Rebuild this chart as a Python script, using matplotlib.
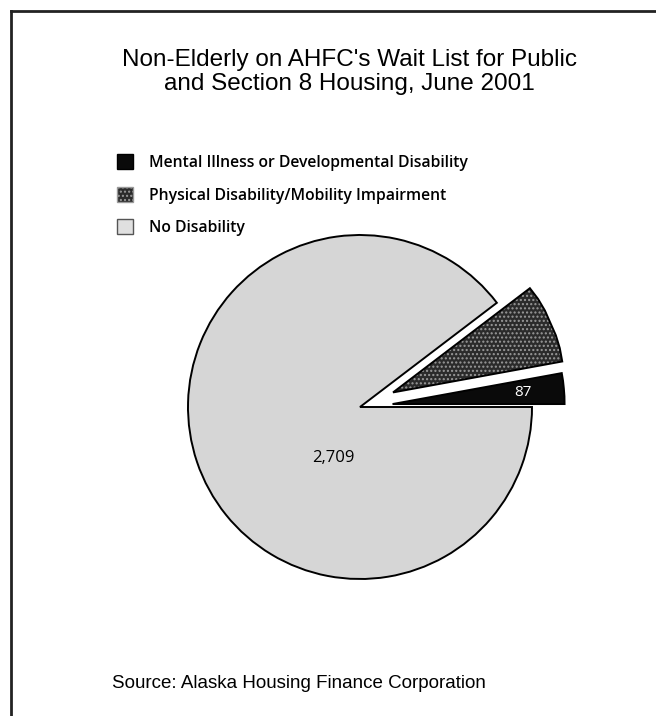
import matplotlib.pyplot as plt
from matplotlib.lines import Line2D

# Data
categories = ["Mental Illness or Developmental Disability",
              "Physical Disability/Mobility Impairment",
              "No Disability"]
values = [87, 226, 2709]          # physical slice is unlabeled; estimated from angle
slice_labels = ["87", "", "2,709"]

title = "Non-Elderly on AHFC's Wait List for Public\nand Section 8 Housing, June 2001"
source = "Source: Alaska Housing Finance Corporation"

fig = plt.figure(figsize=(6.56, 7.16), dpi=100)
W, H = 656, 716

# pie axes: center at (360, 407) px, radius 172 px
cx, cy, r = 360, 407, 172
half = 230
ax = fig.add_axes([(cx - half) / W, (H - cy - half) / H, 2 * half / W, 2 * half / H])

wedges, _ = ax.pie(values, startangle=0, counterclock=True, radius=1,
                   explode=[0.19, 0.21, 0],
                   colors=["#0a0a0a", "#2b2b2b", "#d6d6d6"],
                   wedgeprops=dict(edgecolor="black", linewidth=1.4))
ax.set_xlim(-half / r, half / r)
ax.set_ylim(-half / r, half / r)
ax.set_aspect("equal")
ax.axis("off")

wedges[1].set_hatch("....")
wedges[1].set_edgecolor("#9a9a9a")
wedges[1].set_linewidth(0)
for w in wedges:
    w.set_clip_on(False)
# outline for the hatched wedge
ax.add_patch(plt.Polygon(wedges[1].get_path().vertices, closed=True, fill=False,
                         edgecolor="black", linewidth=1.4,
                         transform=wedges[1].get_transform(), clip_on=False))

ax.text(-0.157, -0.297, slice_labels[2], ha="center", va="center",
        fontsize=12, family="Open Sans", color="black")
ax.text(0.95, 0.085, slice_labels[0], ha="center", va="center",
        fontsize=11, family="Open Sans", color="white")

# legend
handles = [plt.Rectangle((0, 0), 1, 1, facecolor="#0a0a0a", edgecolor="black"),
           plt.Rectangle((0, 0), 1, 1, facecolor="#2b2b2b", edgecolor="#9a9a9a",
                         hatch="...."),
           plt.Rectangle((0, 0), 1, 1, facecolor="#e0e0e0", edgecolor="#555555",
                         linewidth=1)]
fig.legend(handles, categories, loc="upper left",
           bbox_to_anchor=(103 / W, 1 - 140 / H), frameon=False,
           prop=dict(family="Open Sans", weight="semibold", size=11.3),
           handlelength=1.0, handleheight=1.1, handletextpad=1.0,
           labelspacing=1.0)

fig.text(349 / W, 1 - 72 / H, title, ha="center", va="center",
         fontsize=17.5, family="Liberation Sans", linespacing=1.15)
fig.text(112 / W, 1 - 683 / H, source, ha="left", va="center",
         fontsize=13.5, family="Liberation Sans")

# frame: top and left lines
fig.add_artist(Line2D([11 / W, 11 / W], [0, 1 - 11 / H], color="#222222",
                      linewidth=2, transform=fig.transFigure))
fig.add_artist(Line2D([11 / W, 1], [1 - 11 / H, 1 - 11 / H], color="#222222",
                      linewidth=2, transform=fig.transFigure))

fig.savefig("out.png", dpi=100)
